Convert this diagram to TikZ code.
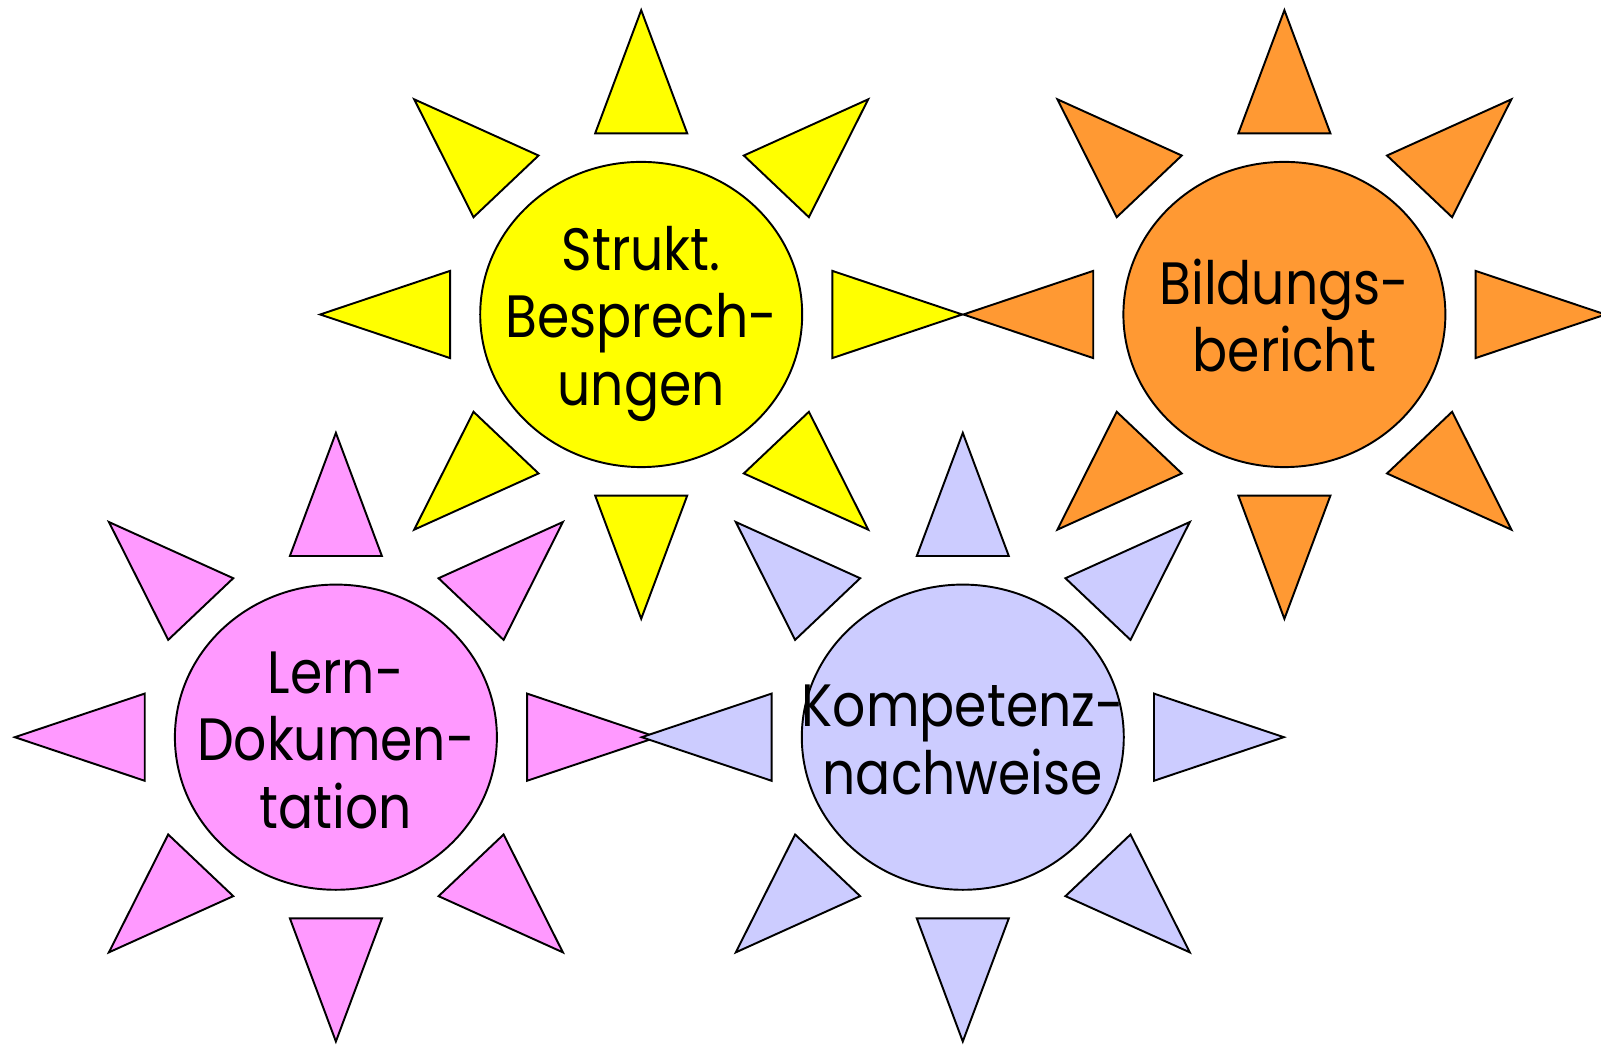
\documentclass[tikz,border=0pt]{standalone}
\usepackage{fontspec}
\setmainfont{Poppins}[FakeStretch=0.87]
\definecolor{sunyellow}{HTML}{FFFF00}
\definecolor{sunorange}{HTML}{FF9933}
\definecolor{sunpink}{HTML}{FF99FF}
\definecolor{sunblue}{HTML}{CCCCFF}
\tikzset{
  ray/.style={draw=black, line width=0.55pt},
  sunbody/.style={draw=black, line width=0.55pt},
  suntext/.style={align=center, inner sep=0pt, yshift=-0.1cm, font=\fontsize{17}{19.2}\selectfont},
}
\begin{document}
\begin{tikzpicture}
\useasboundingbox (0,0) rectangle (16.01,10.45);

\coordinate (strukt) at (6.412,7.305);
\coordinate (bericht) at (12.844,7.305);
\coordinate (lern) at (3.359,3.078);
\coordinate (kompetenz) at (9.628,3.078);

% four suns: rays, then the disc with its text
\foreach \c/\col in {strukt/sunyellow, bericht/sunorange, lern/sunpink, kompetenz/sunblue}{
  \begin{scope}[shift={(\c)}, xscale=1.055]
    \foreach \a in {0,45,...,315}
      \draw[ray, fill=\col, rotate=\a] (3.043,0) -- (1.812,0.436) -- (1.812,-0.436) -- cycle;
    \draw[sunbody, fill=\col] (0,0) circle (1.526);
  \end{scope}
}

\node[suntext] (struktlabel) at (strukt) {\strut Strukt.\\\strut Besprech-\\\strut ungen};
\node[suntext] (berichtlabel) at (bericht) {\strut Bildungs-\\\strut bericht};
\node[suntext] (lernlabel) at (lern) {\strut Lern-\\\strut Dokumen-\\\strut tation};
\node[suntext] (kompetenzlabel) at (kompetenz) {\strut Kompetenz-\\\strut nachweise};
\end{tikzpicture}
\end{document}
